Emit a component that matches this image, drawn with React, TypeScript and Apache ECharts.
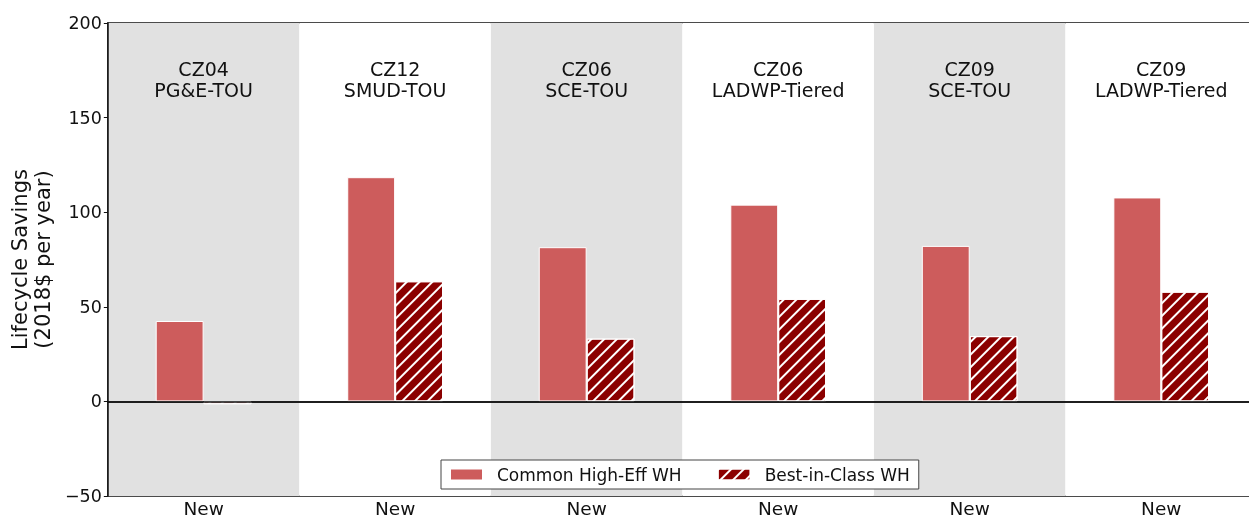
import React, { useEffect, useRef } from "react";
import * as echarts from "echarts";

const categories = ["New", "New", "New", "New", "New", "New"];
const groupLabels = [
  "CZ04\nPG&E-TOU",
  "CZ12\nSMUD-TOU",
  "CZ06\nSCE-TOU",
  "CZ06\nLADWP-Tiered",
  "CZ09\nSCE-TOU",
  "CZ09\nLADWP-Tiered",
];
const commonHighEff = [42.5, 118.5, 81.5, 104, 82.2, 107.8];
const bestInClass = [-1.5, 63.5, 33.2, 54.2, 34.5, 58];
const yTicks = { min: -50, max: 200, interval: 50 };
const labelLevel = 170.3;

const FONT = "DejaVu Sans";

export default function App() {
  const ref = useRef<HTMLDivElement>(null);
  useEffect(() => {
    if (!ref.current) return;
    const chart = echarts.init(ref.current, undefined, { renderer: "svg" });
    chart.setOption({
      animation: false,
      textStyle: { fontFamily: FONT },
      grid: {
        left: 105,
        top: 23,
        width: 1152,
        height: 475,
        show: true,
        borderColor: "#111",
        borderWidth: 1.5,
        backgroundColor: "transparent",
      },
      legend: {
        data: ["Common High-Eff WH", "Best-in-Class WH"],
        left: 441,
        top: 460,
        padding: [6, 9, 6, 8],
        icon: "rect",
        itemWidth: 33,
        itemHeight: 12,
        itemGap: 35,
        backgroundColor: "#fff",
        borderColor: "#444",
        borderWidth: 1,
        borderRadius: 0,
        textStyle: {
          fontFamily: FONT,
          fontSize: 17,
          color: "#111",
          padding: [0, 0, 0, 9],
        },
      },
      xAxis: {
        type: "category",
        data: categories,
        axisLine: { show: true, lineStyle: { color: "#111", width: 1.5 } },
        axisTick: { show: false },
        axisLabel: { fontFamily: FONT, fontSize: 18.5, color: "#111", margin: 3 },
        splitArea: { show: true, areaStyle: { color: ["#e1e1e1", "#ffffff"] } },
        splitLine: { show: false },
      },
      yAxis: {
        type: "value",
        min: yTicks.min,
        max: yTicks.max,
        interval: yTicks.interval,
        name: "Lifecycle Savings\n(2018$ per year)",
        nameLocation: "middle",
        nameGap: 49,
        nameTextStyle: { fontFamily: FONT, fontSize: 21, color: "#111", lineHeight: 23 },
        axisLine: { show: true, lineStyle: { color: "#111", width: 1.5 } },
        axisTick: { show: true, length: 4, lineStyle: { color: "#111" } },
        axisLabel: {
          fontFamily: FONT,
          fontSize: 17.5,
          color: "#111",
          margin: 6,
          formatter: (v: number) => String(v).replace("-", "\u2212"),
        },
        splitLine: { show: false },
      },
      series: [
        {
          name: "Common High-Eff WH",
          type: "bar",
          data: commonHighEff,
          barWidth: "25%",
          barGap: "0%",
          itemStyle: { color: "#cd5c5c", borderColor: "#fff", borderWidth: 1 },
          markLine: {
            silent: true,
            symbol: "none",
            label: { show: false },
            lineStyle: { color: "#111", width: 1.5, type: "solid" },
            data: [{ yAxis: 0 }],
          },
          z: 3,
        },
        {
          name: "Best-in-Class WH",
          type: "bar",
          data: bestInClass,
          barWidth: "25%",
          barGap: "0%",
          itemStyle: {
            color: "#8b0000",
            borderColor: "#fff",
            borderWidth: 1,
            decal: {
              symbol: "rect",
              symbolSize: 1,
              color: "#ffffff",
              dashArrayX: [1, 0],
              dashArrayY: [2, 6.5],
              rotation: -Math.PI / 4,
            },
          },
          z: 3,
        },
        {
          name: "labels",
          type: "scatter",
          symbolSize: 0,
          silent: true,
          itemStyle: { opacity: 1 },
          data: groupLabels.map((t, i) => ({
            value: [i, labelLevel],
            label: {
              show: true,
              position: "inside",
              formatter: t,
              fontFamily: FONT,
              fontSize: 19,
              lineHeight: 21,
              color: "#111",
              opacity: 1,
            },
          })),
        },
      ],
    });
    return () => chart.dispose();
  }, []);
  return (
    <div
      ref={ref}
      style={{ position: "fixed", left: 0, top: 0, width: 1262, height: 518 }}
    />
  );
}
